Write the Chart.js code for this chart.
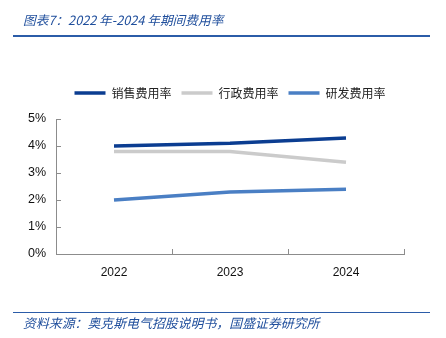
<!DOCTYPE html>
<html>
<head>
<meta charset="utf-8">
<script src="https://cdn.jsdelivr.net/npm/chart.js@4/dist/chart.umd.min.js"></script>
<style>
  html, body { margin: 0; padding: 0; background: #fff; }
  #wrap { position: relative; width: 446px; height: 338px; overflow: hidden; }
  #c { position: absolute; left: 0; top: 0; }
  .title { position: absolute; left: 23px; top: 11px; font-family: "Noto Sans CJK SC", sans-serif; font-style: italic; font-size: 12.7px; color: #1f4e9c; white-space: nowrap; line-height: 18px; }
  .topline { position: absolute; left: 13px; top: 35px; width: 417px; height: 2px; background: #2b5ca8; }
  .botline { position: absolute; left: 13px; top: 312px; width: 417px; height: 1px; background: #2b5ca8; }
  .source { position: absolute; left: 23px; top: 314px; font-family: "Noto Sans CJK SC", sans-serif; font-style: italic; font-size: 12.9px; color: #1f4e9c; white-space: nowrap; line-height: 18px; }
</style>
</head>
<body>
<div id="wrap">
  <canvas id="c" width="446" height="338"></canvas>
  <div class="title">图表7：2022 年-2024 年期间费用率</div>
  <div class="topline"></div>
  <div class="botline"></div>
  <div class="source">资料来源：奥克斯电气招股说明书，国盛证券研究所</div>
</div>
<script>
const categories = ["2022", "2023", "2024"];
const salesRate = [4.0, 4.1, 4.3];
const adminRate = [3.8, 3.8, 3.4];
const rdRate = [2.0, 2.3, 2.4];
const seriesNames = ["销售费用率", "行政费用率", "研发费用率"];
const yTicks = [0, 1, 2, 3, 4, 5];

const insideTicks = {
  id: 'insideTicks',
  afterDraw(chart) {
    const ctx = chart.ctx;
    const x = chart.scales.x, y = chart.scales.y;
    ctx.save();
    ctx.strokeStyle = '#8c8c8c';
    ctx.lineWidth = 1;
    ctx.beginPath();
    yTicks.forEach(v => {
      const py = Math.round(y.getPixelForValue(v)) + 0.5;
      ctx.moveTo(x.left, py);
      ctx.lineTo(x.left + 5, py);
    });
    const step = x.getPixelForTick(1) - x.getPixelForTick(0);
    for (let i = 0; i < categories.length; i++) {
      const px = Math.round(x.getPixelForTick(i) + step / 2) + 0.5;
      ctx.moveTo(px, y.bottom);
      ctx.lineTo(px, y.bottom - 5);
    }
    ctx.stroke();
    ctx.restore();
  }
};

const legendSpacing = {
  id: 'legendSpacing',
  afterInit(chart) {
    const lg = chart.legend;
    if (lg && !lg._wrapped) {
      const orig = lg.fit;
      lg.fit = function () { orig.call(this); this.height += 10; };
      lg._wrapped = true;
    }
  }
};

new Chart(document.getElementById('c'), {
  type: 'line',
  data: {
    labels: categories,
    datasets: [
      { label: seriesNames[0], data: salesRate, borderColor: '#0b3d91', backgroundColor: '#0b3d91', borderWidth: 3.5, pointRadius: 0, tension: 0 },
      { label: seriesNames[1], data: adminRate, borderColor: '#cbcbcb', backgroundColor: '#cbcbcb', borderWidth: 3.5, pointRadius: 0, tension: 0 },
      { label: seriesNames[2], data: rdRate, borderColor: '#4a7fc4', backgroundColor: '#4a7fc4', borderWidth: 3.5, pointRadius: 0, tension: 0 }
    ]
  },
  options: {
    responsive: false,
    animation: false,
    devicePixelRatio: 1,
    layout: { padding: { left: 14, right: 0, top: 77, bottom: 0 } },
    plugins: {
      legend: {
        position: 'top',
        labels: {
          usePointStyle: true,
          pointStyle: 'line',
          pointStyleWidth: 31,
          boxHeight: 12,
          padding: 10,
          color: '#222',
          font: { family: '"Noto Sans CJK SC", sans-serif', size: 12 }
        }
      },
      tooltip: { enabled: false }
    },
    scales: {
      x: {
        offset: true,
        grid: { display: false, drawTicks: false },
        border: { display: true, color: '#8c8c8c', width: 1 },
        ticks: { padding: 11, color: '#111', font: { family: '"Liberation Sans", sans-serif', size: 12 } },
        afterFit(s) { s.height = 338 - 254; }
      },
      y: {
        min: 0, max: 5,
        afterBuildTicks(s) { s.ticks = yTicks.map(v => ({ value: v })); },
        grid: { display: false, drawTicks: false },
        border: { display: true, color: '#8c8c8c', width: 1 },
        ticks: { padding: 10, color: '#111', font: { family: '"Liberation Sans", sans-serif', size: 12.5 }, callback: v => v + '%' },
        afterFit(s) { s.width = 42; }
      },
      yRight: {
        type: 'linear',
        position: 'right',
        display: true,
        grid: { display: false, drawTicks: false },
        border: { display: false },
        ticks: { display: false },
        afterFit(s) { s.width = 42; }
      }
    }
  },
  plugins: [insideTicks, legendSpacing]
});
</script>
</body>
</html>
